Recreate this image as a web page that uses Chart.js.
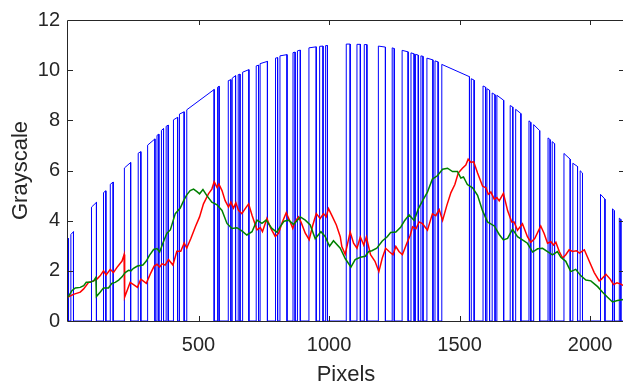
<!DOCTYPE html>
<html>
<head>
<meta charset="utf-8">
<script src="https://cdn.jsdelivr.net/npm/chart.js@4.4.1/dist/chart.umd.min.js"></script>
<style>
  html, body { margin: 0; padding: 0; background: #fff; overflow: hidden; }
  #wrap { width: 623px; height: 385px; overflow: hidden; }
</style>
</head>
<body>
<div id="wrap"><canvas id="grayChart" width="628" height="385"></canvas></div>
<script>
// blue trace: pulses that sit on the envelope, zero elsewhere
const pulseStart    = [0, 11, 90, 136, 162, 216, 269, 305, 341, 358, 376, 404, 427, 455, 573, 614, 629, 652, 669, 721, 736, 795, 812, 862, 879, 923, 964, 987, 1066, 1107, 1135, 1189, 1242, 1280, 1314, 1331, 1352, 1375, 1406, 1432, 1545, 1590, 1605, 1625, 1643, 1694, 1715, 1766, 1784, 1839, 1855, 1900, 1934, 1962, 2040, 2086, 2112];
const pulseEnd      = [3, 21, 109, 145, 173, 240, 279, 333, 348, 366, 384, 420, 445, 560, 579, 624, 642, 659, 693, 730, 764, 803, 839, 870, 890, 951, 977, 994, 1081, 1120, 1145, 1216, 1250, 1303, 1326, 1342, 1360, 1398, 1418, 1538, 1556, 1600, 1615, 1636, 1669, 1704, 1735, 1773, 1807, 1847, 1864, 1924, 1952, 1971, 2057, 2093, 2118];
const pulseTopStart = [3.30, 3.45, 4.54, 5.12, 5.45, 6.10, 6.69, 7.01, 7.40, 7.60, 7.76, 8.02, 8.25, 8.42, 9.32, 9.58, 9.68, 9.82, 9.92, 10.17, 10.26, 10.48, 10.57, 10.70, 10.77, 10.89, 10.95, 10.98, 11.04, 11.03, 11.02, 10.96, 10.89, 10.79, 10.69, 10.63, 10.57, 10.48, 10.37, 10.23, 9.66, 9.37, 9.26, 9.09, 9.00, 8.59, 8.44, 7.98, 7.83, 7.30, 7.15, 6.68, 6.29, 5.99, 5.05, 4.47, 4.10];
const pulseTopEnd   = [3.30, 3.56, 4.73, 5.19, 5.54, 6.32, 6.75, 7.26, 7.45, 7.67, 7.81, 8.12, 8.34, 9.23, 9.36, 9.62, 9.78, 9.84, 10.02, 10.20, 10.35, 10.50, 10.62, 10.72, 10.80, 10.93, 10.96, 10.98, 11.04, 11.03, 11.02, 10.92, 10.86, 10.73, 10.65, 10.60, 10.55, 10.41, 10.33, 9.74, 9.60, 9.32, 9.20, 9.02, 8.80, 8.53, 8.27, 7.92, 7.59, 7.23, 7.07, 6.45, 6.16, 5.90, 4.86, 4.40, 4.05];
const signalLength = 2128;

const redX = [0, 21, 47, 60, 79, 98, 111, 123, 136, 146, 162, 174, 187, 207, 215, 217, 238, 251, 266, 279, 300, 315, 330, 341, 351, 360, 372, 385, 402, 417, 432, 445, 455, 471, 488, 504, 519, 538, 551, 560, 571, 578, 590, 602, 615, 624, 634, 643, 653, 666, 679, 692, 705, 724, 737, 745, 762, 777, 794, 807, 819, 836, 851, 861, 870, 883, 892, 909, 924, 938, 951, 966, 979, 989, 998, 1012, 1028, 1043, 1049, 1062, 1081, 1094, 1107, 1120, 1133, 1143, 1159, 1176, 1191, 1204, 1217, 1230, 1245, 1256, 1268, 1281, 1298, 1311, 1320, 1333, 1345, 1358, 1377, 1396, 1409, 1422, 1435, 1451, 1467, 1482, 1495, 1511, 1524, 1533, 1544, 1554, 1569, 1588, 1601, 1610, 1620, 1633, 1643, 1652, 1668, 1684, 1700, 1709, 1722, 1741, 1760, 1773, 1788, 1811, 1824, 1837, 1850, 1860, 1869, 1882, 1895, 1907, 1920, 1933, 1948, 1959, 1978, 1997, 2016, 2035, 2044, 2061, 2077, 2090, 2103, 2118, 2128];
const redY = [0.95, 1.06, 1.15, 1.28, 1.54, 1.60, 1.67, 1.80, 2.00, 1.84, 2.06, 1.93, 2.13, 2.39, 2.65, 0.95, 1.54, 1.45, 1.34, 1.67, 1.50, 1.87, 2.19, 2.26, 2.15, 2.28, 2.23, 2.45, 2.23, 2.78, 2.78, 3.11, 2.91, 3.30, 3.76, 4.15, 4.67, 5.07, 5.26, 5.55, 5.33, 5.46, 5.20, 4.80, 4.54, 4.74, 4.50, 4.71, 4.41, 4.28, 4.48, 4.67, 4.22, 3.63, 3.72, 3.56, 4.09, 3.69, 3.37, 3.50, 3.89, 4.32, 3.96, 3.69, 3.96, 4.15, 3.96, 3.50, 3.24, 3.83, 4.28, 4.09, 4.28, 4.15, 4.48, 4.18, 3.83, 3.36, 2.97, 2.66, 3.55, 3.10, 2.90, 3.35, 3.03, 3.35, 2.64, 2.38, 1.97, 2.51, 2.90, 2.77, 2.64, 2.97, 2.77, 2.64, 3.10, 3.42, 3.75, 3.68, 3.95, 3.88, 3.62, 4.27, 4.20, 4.44, 4.01, 4.60, 5.12, 5.44, 5.90, 6.09, 6.22, 6.45, 6.32, 6.35, 5.90, 5.38, 5.31, 5.05, 5.14, 4.86, 4.92, 4.79, 5.09, 4.40, 3.95, 3.95, 3.62, 3.88, 3.36, 3.14, 3.29, 3.79, 3.49, 3.10, 3.16, 3.03, 3.14, 2.77, 2.51, 2.64, 2.84, 2.77, 2.80, 2.71, 2.84, 2.38, 1.93, 1.60, 1.67, 1.86, 1.67, 1.45, 1.52, 1.47, 1.41];

const greenX = [0, 15, 28, 47, 60, 70, 85, 98, 107, 109, 123, 136, 155, 168, 181, 194, 207, 219, 232, 241, 251, 266, 287, 300, 312, 328, 341, 351, 366, 379, 392, 411, 430, 443, 455, 468, 481, 494, 504, 517, 532, 551, 571, 590, 609, 628, 647, 666, 685, 705, 724, 743, 759, 781, 800, 813, 828, 845, 864, 890, 909, 928, 947, 969, 985, 1002, 1017, 1043, 1062, 1084, 1100, 1120, 1139, 1152, 1164, 1183, 1204, 1223, 1236, 1256, 1275, 1290, 1307, 1320, 1326, 1342, 1358, 1377, 1396, 1415, 1435, 1454, 1473, 1492, 1505, 1515, 1530, 1550, 1569, 1588, 1607, 1633, 1652, 1668, 1684, 1703, 1722, 1741, 1760, 1780, 1799, 1818, 1837, 1856, 1875, 1888, 1907, 1926, 1945, 1965, 1984, 2003, 2029, 2048, 2067, 2086, 2105, 2128];
const greenY = [0.95, 1.21, 1.32, 1.34, 1.41, 1.54, 1.54, 1.60, 1.74, 0.98, 1.15, 1.32, 1.32, 1.50, 1.54, 1.63, 1.76, 1.93, 2.02, 2.00, 2.10, 2.19, 2.23, 2.39, 2.62, 2.85, 2.89, 2.75, 3.17, 3.50, 3.63, 4.28, 4.50, 4.80, 5.03, 5.20, 5.26, 5.16, 5.07, 5.24, 5.00, 4.74, 4.63, 4.41, 3.89, 3.69, 3.72, 3.59, 3.43, 3.56, 4.02, 3.89, 4.02, 3.69, 3.54, 3.76, 3.98, 4.02, 3.85, 4.15, 4.02, 3.83, 3.28, 3.56, 3.37, 2.98, 3.20, 2.90, 2.49, 2.15, 2.45, 2.54, 2.58, 2.77, 2.80, 2.90, 3.19, 3.36, 3.53, 3.55, 3.75, 4.01, 4.23, 4.08, 4.01, 4.47, 4.79, 5.14, 5.66, 5.79, 6.05, 6.09, 5.96, 5.96, 5.70, 5.74, 5.44, 5.31, 5.01, 4.40, 3.95, 3.79, 3.45, 3.23, 3.29, 3.66, 3.36, 3.23, 3.10, 2.75, 2.88, 2.90, 2.77, 2.64, 2.77, 2.54, 2.38, 1.97, 2.06, 1.80, 1.63, 1.60, 1.37, 1.15, 0.95, 0.76, 0.82, 0.86];

const xTicks = [500, 1000, 1500, 2000];
const yTicks = [0, 2, 4, 6, 8, 10, 12];
const xLimit = 2130;

const AXIS_COLOR = '#262626';
const FONT = '"Liberation Sans", Arial, Helvetica, sans-serif';

function bluePoints() {
  const pts = [];
  pulseStart.forEach((s, i) => {
    const e = pulseEnd[i];
    pts.push({ x: s, y: 0 }, { x: s, y: pulseTopStart[i] }, { x: e, y: pulseTopEnd[i] }, { x: e, y: 0 });
  });
  pts.push({ x: signalLength, y: 0 });
  return pts;
}

function zipXY(xs, ys) {
  return xs.map((x, i) => ({ x, y: ys[i] }));
}

// matlab-like box with inward ticks
const boxPlugin = {
  id: 'box',
  afterDatasetsDraw(chart) {
    const { ctx, chartArea } = chart;
    const { left, right, top, bottom } = chartArea;
    const xs = chart.scales.x, ys = chart.scales.y;
    ctx.save();
    ctx.strokeStyle = AXIS_COLOR;
    ctx.lineWidth = 1;
    ctx.beginPath();
    ctx.rect(Math.round(left) - 0.5, Math.round(top) + 0.5, Math.round(right - left) + 1, Math.round(bottom - top));
    xTicks.forEach(v => {
      const px = Math.round(xs.getPixelForValue(v)) + 0.5;
      ctx.moveTo(px, bottom); ctx.lineTo(px, bottom - 5);
      ctx.moveTo(px, top); ctx.lineTo(px, top + 5);
    });
    yTicks.forEach(v => {
      const py = Math.round(ys.getPixelForValue(v)) + 0.5;
      ctx.moveTo(left, py); ctx.lineTo(left + 5, py);
      ctx.moveTo(right, py); ctx.lineTo(right - 5, py);
    });
    ctx.stroke();
    ctx.restore();
  }
};

new Chart(document.getElementById('grayChart'), {
  type: 'line',
  data: {
    datasets: [
      { label: 'blue', data: bluePoints(), borderColor: '#0000ff', borderWidth: 1, pointRadius: 0, tension: 0, order: 3 },
      { label: 'red', data: zipXY(redX, redY), borderColor: '#ff0000', borderWidth: 1.5, pointRadius: 0, tension: 0, order: 2 },
      { label: 'green', data: zipXY(greenX, greenY), borderColor: '#008000', borderWidth: 1.5, pointRadius: 0, tension: 0, order: 1 }
    ]
  },
  options: {
    responsive: false,
    animation: false,
    devicePixelRatio: 1,
    parsing: false,
    layout: { padding: { top: 14, right: 4, bottom: 0, left: 0 } },
    plugins: { legend: { display: false }, tooltip: { enabled: false } },
    scales: {
      x: {
        type: 'linear',
        min: 0,
        max: xLimit,
        afterBuildTicks: s => { s.ticks = xTicks.map(v => ({ value: v })); },
        afterFit: s => { s.height = 64; },
        grid: { display: false, drawTicks: false },
        border: { display: false },
        ticks: { color: AXIS_COLOR, font: { family: FONT, size: 20 }, padding: 12, maxRotation: 0, callback: v => String(v) },
        title: { display: true, text: 'Pixels', color: AXIS_COLOR, font: { family: FONT, size: 22, lineHeight: 0.92 }, padding: { top: 0, bottom: 0 } }
      },
      y: {
        type: 'linear',
        min: 0,
        max: 12,
        afterBuildTicks: s => { s.ticks = yTicks.map(v => ({ value: v })); },
        afterFit: s => { s.width = 68; },
        grid: { display: false, drawTicks: false },
        border: { display: false },
        ticks: { color: AXIS_COLOR, font: { family: FONT, size: 20 }, padding: 8, callback: v => String(v) },
        title: { display: true, text: 'Grayscale', color: AXIS_COLOR, font: { family: FONT, size: 22 }, padding: { top: 8, bottom: 0 } }
      }
    }
  },
  plugins: [boxPlugin]
});
</script>
</body>
</html>
